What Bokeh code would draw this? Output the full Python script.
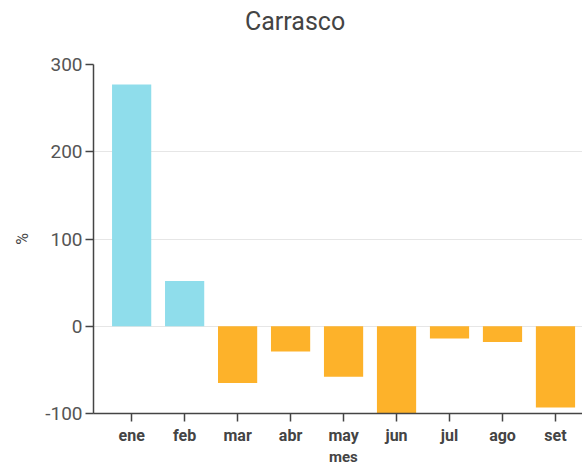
from bokeh.plotting import figure
from bokeh.models import Range1d, FixedTicker, Div
from bokeh.layouts import column
from bokeh.embed import file_html
from bokeh.resources import INLINE

meses = ["ene", "feb", "mar", "abr", "may", "jun", "jul", "ago", "set"]
valores = [277, 52, -65, -29, -58, -100, -14, -18, -93]
y_ticks = [-100, 0, 100, 200, 300]
y_labels = ["-100", "0", "100", "200", "300"]
titulo = "Carrasco"
eje_x = "mes"
eje_y = "%"

POS = "#8FDDEB"
NEG = "#FDB22A"

xs = list(range(len(meses)))
colors = [POS if v >= 0 else NEG for v in valores]

title_div = Div(text=titulo, width=582, height=48, margin=0,
                styles={"font-family": "Roboto", "font-size": "25px", "color": "#444444",
                        "line-height": "44px", "text-align": "left", "text-indent": "245px",
                        "white-space": "nowrap"})

p = figure(width=582, height=399, output_backend="svg", toolbar_location=None,
           x_range=Range1d(-0.72, 8.51), y_range=Range1d(-100, 300),
           min_border_left=93, min_border_right=0, min_border_top=16, min_border_bottom=34)
p.margin = 0

p.vbar(x=xs, top=valores, bottom=0, width=0.74, color=colors, line_color=None)

p.outline_line_color = None
p.xgrid.grid_line_color = None
p.ygrid.grid_line_color = "#e6e6e6"
p.ygrid.grid_line_width = 1

p.xaxis.ticker = FixedTicker(ticks=xs)
p.xaxis.major_label_overrides = {i: m for i, m in enumerate(meses)}
p.yaxis.ticker = FixedTicker(ticks=y_ticks)
p.yaxis.major_label_overrides = {t: l for t, l in zip(y_ticks, y_labels)}

for ax in (p.xaxis[0], p.yaxis[0]):
    ax.axis_line_color = "#444444"
    ax.axis_line_width = 1.5
    ax.major_tick_line_color = "#444444"
    ax.major_tick_line_width = 1.5
    ax.major_tick_out = 8
    ax.major_tick_in = 0
    ax.minor_tick_line_color = None
    ax.axis_label_text_font = "Roboto"
    ax.major_label_text_font = "Roboto"

p.xaxis.major_label_text_font_size = "16px"
p.xaxis.major_label_text_font_style = "bold"
p.xaxis.major_label_text_color = "#444444"
p.xaxis.major_label_standoff = 4

p.yaxis.major_label_text_font_size = "19px"
p.yaxis.major_label_text_color = "#555555"
p.yaxis.major_label_standoff = 3
p.yaxis.axis_label = eje_y
p.yaxis.axis_label_text_font_size = "16px"
p.yaxis.axis_label_text_font_style = "normal"
p.yaxis.axis_label_text_color = "#444444"
p.yaxis.axis_label_standoff = 10

xlabel_div = Div(text=eje_x, width=582, height=21, margin=0,
                 styles={"font-family": "Roboto", "font-size": "15px", "font-weight": "bold",
                         "color": "#444444", "line-height": "21px", "text-align": "left",
                         "text-indent": "329px", "white-space": "nowrap"})

layout = column(title_div, p, xlabel_div, spacing=0, margin=0)

open("out.html", "w").write(file_html(layout, INLINE))
